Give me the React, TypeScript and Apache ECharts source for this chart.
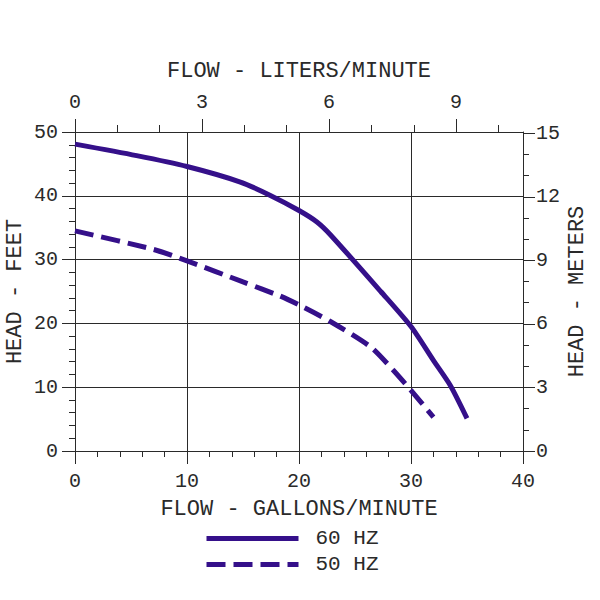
import React, { useEffect, useRef } from "react";
import * as echarts from "echarts";

const FONT = "'Liberation Mono', 'DejaVu Sans Mono', monospace";
const INK = "#2a2a2a";
const CURVE = "#35108a";

const gpm60: number[] = [0, 5.5, 10, 14.7, 17.4, 20, 21.6, 22.8, 27.3, 30, 32, 33.5, 35];
const head60: number[] = [48.1, 46.3, 44.6, 42.2, 40.1, 37.7, 35.9, 33.9, 25.0, 19.5, 14.2, 10.3, 5.1];
const gpm50: number[] = [0, 7, 10, 15, 18.3, 20, 22.8, 26.4, 28.4, 30, 32];
const head50: number[] = [34.5, 31.6, 29.8, 26.5, 24.3, 22.9, 20.3, 16.3, 12.7, 9.5, 5.3];

const litersMajor: number[] = [0, 3, 6, 9];
const litersMinor: number[] = [1, 2, 4, 5, 7, 8, 10];
const litersMax = 10.58;
const metersMajor: number[] = [0, 3, 6, 9, 12, 15];
const metersMinor: number[] = [1, 2, 4, 5, 7, 8, 10, 11, 13, 14];
const metersMax = 15.06;

const seriesNames: string[] = ["60 HZ", "50 HZ"];

export default function App() {
  const ref = useRef<HTMLDivElement>(null);
  useEffect(() => {
    if (!ref.current) return;
    const chart = echarts.init(ref.current, undefined, { renderer: "svg" });
    const lbl = { fontFamily: FONT, fontSize: 20, color: INK };
    const nameStyle = { fontFamily: FONT, fontSize: 22, color: INK };
    const axisLine = { show: true, onZero: false, lineStyle: { color: INK, width: 1 } };
    const gridBox = { left: 75, right: 77, top: 132, bottom: 149, containLabel: false, outerBoundsMode: "none" };
    chart.setOption({
      animation: false,
      backgroundColor: "#ffffff",
      grid: [gridBox, { ...gridBox }],
      xAxis: [
        {
          type: "value",
          gridIndex: 0,
          position: "bottom",
          min: 0,
          max: 40,
          interval: 10,
          axisLine,
          axisTick: { show: true, length: 13, lineStyle: { color: INK } },
          minorTick: { show: true, splitNumber: 5, length: 6, lineStyle: { color: INK } },
          splitLine: { show: true, lineStyle: { color: INK, width: 1 } },
          axisLabel: { ...lbl, margin: 20 },
          name: "FLOW - GALLONS/MINUTE",
          nameLocation: "middle",
          nameGap: 47,
          nameTextStyle: nameStyle,
        },
        {
          type: "value",
          gridIndex: 0,
          position: "top",
          min: 0,
          max: litersMax,
          axisLine,
          axisTick: { show: true, length: 13, customValues: litersMajor, lineStyle: { color: INK } },
          splitLine: { show: false },
          axisLabel: { ...lbl, margin: 20, customValues: litersMajor },
          name: "FLOW - LITERS/MINUTE",
          nameLocation: "middle",
          nameGap: 50,
          nameTextStyle: nameStyle,
        },
        {
          type: "value",
          gridIndex: 1,
          position: "top",
          min: 0,
          max: litersMax,
          axisLine: { show: false, onZero: false },
          axisTick: { show: true, length: 7, customValues: litersMinor, lineStyle: { color: INK } },
          splitLine: { show: false },
          axisLabel: { show: false },
        },
      ],
      yAxis: [
        {
          type: "value",
          gridIndex: 0,
          position: "left",
          min: 0,
          max: 50,
          interval: 10,
          axisLine,
          axisTick: { show: true, length: 13, lineStyle: { color: INK } },
          minorTick: { show: true, splitNumber: 5, length: 6, lineStyle: { color: INK } },
          splitLine: { show: true, lineStyle: { color: INK, width: 1 } },
          axisLabel: { ...lbl, margin: 17 },
          name: "HEAD - FEET",
          nameLocation: "middle",
          nameRotate: 90,
          nameGap: 49,
          nameMoveOverlap: false,
          nameTextStyle: nameStyle,
        },
        {
          type: "value",
          gridIndex: 0,
          position: "right",
          min: 0,
          max: metersMax,
          axisLine,
          axisTick: { show: true, length: 12, customValues: metersMajor, lineStyle: { color: INK } },
          splitLine: { show: false },
          axisLabel: { ...lbl, margin: 13, customValues: metersMajor },
          name: "HEAD - METERS",
          nameLocation: "middle",
          nameRotate: 90,
          nameGap: 43,
          nameMoveOverlap: false,
          nameTextStyle: nameStyle,
        },
        {
          type: "value",
          gridIndex: 1,
          position: "right",
          min: 0,
          max: metersMax,
          axisLine: { show: false, onZero: false },
          axisTick: { show: true, length: 6, customValues: metersMinor, lineStyle: { color: INK } },
          splitLine: { show: false },
          axisLabel: { show: false },
        },
      ],
      legend: {
        orient: "vertical",
        left: 204,
        top: 528,
        padding: 0,
        itemWidth: 92,
        itemHeight: 14,
        itemGap: 5,
        itemStyle: { color: "rgba(0,0,0,0)", borderWidth: 0, opacity: 0 },
        lineStyle: { width: 5 },
        textStyle: { fontFamily: FONT, fontSize: 21, color: INK, padding: [0, 0, 0, 12] },
        data: seriesNames,
      },
      series: [
        {
          name: seriesNames[0],
          type: "line",
          xAxisIndex: 0,
          yAxisIndex: 0,
          smooth: 0.25,
          showSymbol: false,
          symbol: "none",
          lineStyle: { color: CURVE, width: 5 },
          itemStyle: { color: CURVE },
          data: gpm60.map((g, i) => [g, head60[i]]),
        },
        {
          name: seriesNames[1],
          type: "line",
          xAxisIndex: 0,
          yAxisIndex: 0,
          smooth: 0.25,
          showSymbol: false,
          symbol: "none",
          lineStyle: { color: CURVE, width: 5, type: [19, 8] },
          itemStyle: { color: CURVE },
          data: gpm50.map((g, i) => [g, head50[i]]),
        },
      ],
    });
    return () => chart.dispose();
  }, []);
  return <div ref={ref} style={{ width: 600, height: 600, position: "absolute", left: 0, top: 0 }} />;
}
